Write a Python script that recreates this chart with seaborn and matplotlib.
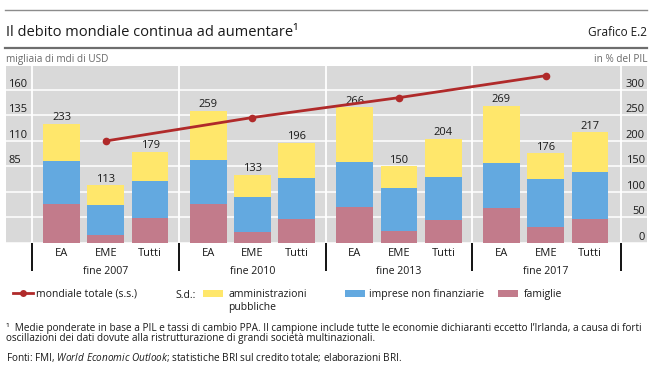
import numpy as np
import pandas as pd
import matplotlib
matplotlib.use("Agg")
import matplotlib.pyplot as plt
import matplotlib.transforms as mtransforms
from matplotlib.lines import Line2D
from matplotlib.patches import Patch
import seaborn as sns

# ---------------- data ----------------
periods = ["fine 2007", "fine 2010", "fine 2013", "fine 2017"]
regions = ["EA", "EME", "Tutti"]
famiglie = [76, 16, 49, 76, 21, 48, 71, 23, 45, 69, 31, 47]
imprese = [85, 58, 72, 87, 70, 79, 87, 84, 85, 88, 94, 92]
amministrazioni = [72, 39, 58, 96, 42, 69, 108, 43, 74, 112, 51, 78]
totali = [233, 113, 179, 259, 133, 196, 266, 150, 204, 269, 176, 217]
mondiale = [110, 133, 152.5, 174]
right_ticks = [0, 50, 100, 150, 200, 250, 300]
left_ticks = [85, 110, 135, 160]

# ---------------- style ----------------
FONT = "Open Sans"
plt.rcParams["font.family"] = [FONT, "DejaVu Sans"]
plt.rcParams["mathtext.fontset"] = "custom"
plt.rcParams["mathtext.rm"] = FONT
plt.rcParams["mathtext.it"] = FONT + ":italic"
YELLOW = "#FFE76B"
BLUE = "#63A9E0"
PINK = "#C27B8B"
RED = "#B02A2A"
GREY = "#D9D9D9"
TXT = "#1A1A1A"
LBL = 8.0     # tick / category / value labels
LEG = 7.5     # legend
NOTE = 7.2    # footnotes

W, H = 650, 370
fig = plt.figure(figsize=(6.5, 3.7), dpi=100)


def fx(px):
    return px / W


def fy(py):
    return 1 - py / H


ax = fig.add_axes([fx(6), fy(243), (647 - 6) / W, (243 - 66) / H])
ax2 = ax.twinx()

# bar positions: 3 bars per group, small gap between groups
GROUP = 3.31
pos = [g * GROUP + i for g in range(len(periods)) for i in range(len(regions))]
df = pd.DataFrame({
    "pos": pos,
    "top": np.add(np.add(famiglie, imprese), amministrazioni),
    "mid": np.add(famiglie, imprese),
    "low": famiglie,
})

ax.set_facecolor(GREY)
ax.set_axisbelow(True)
for col, color in [("top", YELLOW), ("mid", BLUE), ("low", PINK)]:
    sns.barplot(data=df, x="pos", y=col, native_scale=True, width=0.83,
                color=color, saturation=1, errorbar=None, linewidth=0, ax=ax)
ax.bar_label(ax.containers[0], labels=[str(v) for v in totali], padding=0.5,
             fontsize=LBL, color=TXT)

eme_pos = [pos[g * 3 + 1] for g in range(len(periods))]
sns.lineplot(x=eme_pos, y=mondiale, ax=ax2, color=RED, lw=2, marker="o",
             markersize=5.5, markeredgewidth=0, zorder=5)

# limits
ax.set_xlim(-1.253, 13.217)
ax.set_ylim(0, 347)
ax2.set_ylim(10, 183.5)

# horizontal gridlines
ax.set_yticks(right_ticks)
ax.grid(axis="y", color="white", lw=1.1)
ax.grid(axis="x", visible=False)
# vertical separators
seps = [pos[0] - 0.66] + [(pos[g * 3 + 2] + pos[g * 3 + 3]) / 2 for g in range(3)] + [pos[-1] + 0.7]
for s in seps:
    ax.axvline(s, color="white", lw=1.3, zorder=0.5)

# right axis labels (bars, % of GDP) inside the panel
ax.yaxis.tick_right()
ax.tick_params(axis="y", length=0, pad=-1.5, labelsize=LBL, labelcolor=TXT)
for t in ax.get_yticklabels():
    t.set_ha("right")
    t.set_va("bottom")

# left axis labels (line) inside the panel
ax2.yaxis.tick_left()
ax2.set_yticks(left_ticks)
ax2.tick_params(axis="y", length=0, pad=-1.5, labelsize=LBL, labelcolor=TXT)
for t in ax2.get_yticklabels():
    t.set_ha("left")
    t.set_va("bottom")

# x axis
ax.set_xticks(pos)
ax.set_xticklabels(regions * len(periods))
ax.tick_params(axis="x", which="major", length=0, pad=3.3, labelsize=LBL, labelcolor=TXT)
ax.set_xticks(seps, minor=True)
ax.tick_params(axis="x", which="minor", length=20, width=1.3, color="black", direction="out")
trans = mtransforms.blended_transform_factory(ax.transData, ax.transAxes)
for g, p in enumerate(periods):
    ax.text(pos[g * 3 + 1], (243 - 273.5) / 177, p, transform=trans, ha="center",
            va="baseline", fontsize=LBL - 0.4, color=TXT)

for a in (ax, ax2):
    a.set_xlabel("")
    a.set_ylabel("")
    for sp in a.spines.values():
        sp.set_visible(False)

# ---------------- header ----------------
fig.add_artist(Line2D([fx(5), fx(647)], [fy(9.5), fy(9.5)], color="#8C8C8C", lw=1.0))
fig.add_artist(Line2D([fx(5), fx(647)], [fy(47.5), fy(47.5)], color="#6E6E6E", lw=1.6))
fig.text(fx(6), fy(35.5), "Il debito mondiale continua ad aumentare¹", fontsize=10.5,
         va="baseline", ha="left", color=TXT)
fig.text(fx(647), fy(36), "Grafico E.2", fontsize=8.5, va="baseline", ha="right", color=TXT)
fig.text(fx(6), fy(62), "migliaia di mdi di USD", fontsize=7.2, va="baseline",
         ha="left", color="#6A6A6A")
fig.text(fx(647), fy(62), "in % del PIL", fontsize=7.2, va="baseline",
         ha="right", color="#6A6A6A")

# ---------------- legend ----------------
LEG_Y = 294.5


def add_legend(handle, label, x_px, hl, hh=0.7, tp=0.4):
    return fig.legend(handles=[handle], labels=[label], loc="center left",
                      bbox_to_anchor=(fx(x_px), fy(LEG_Y)), frameon=False, borderpad=0,
                      borderaxespad=0, fontsize=LEG, handlelength=hl,
                      handleheight=hh, handletextpad=tp, labelcolor=TXT)


add_legend(Line2D([], [], color=RED, lw=2, marker="o", markersize=5, markeredgewidth=0),
           "mondiale totale (s.s.)", 13, 1.9, tp=0.3)
fig.text(fx(175), fy(298), "S.d.:", fontsize=LEG, va="baseline", ha="left", color=TXT)
leg_y = add_legend(Patch(facecolor=YELLOW), "amministrazioni", 203, 1.95, hh=0.68, tp=0.48)
add_legend(Patch(facecolor=BLUE), "imprese non finanziarie", 345, 1.95, hh=0.68, tp=0.4)
add_legend(Patch(facecolor=PINK), "famiglie", 498, 1.95, hh=0.68, tp=0.55)

# second line of the yellow legend label, aligned with its first line
fig.canvas.draw()
x0 = leg_y.get_texts()[0].get_window_extent().x0
fig.text(x0 / fig.dpi / fig.get_figwidth(), fy(310), "pubbliche", fontsize=LEG,
         va="baseline", ha="left", color=TXT)

# ---------------- footnotes ----------------
fig.text(fx(6), fy(331.5), "¹  Medie ponderate in base a PIL e tassi di cambio PPA. Il campione include "
         "tutte le economie dichiaranti eccetto l’Irlanda, a causa di forti",
         fontsize=NOTE, va="baseline", ha="left", color=TXT)
fig.text(fx(6), fy(341.5), "oscillazioni dei dati dovute alla ristrutturazione di grandi società multinazionali.",
         fontsize=NOTE, va="baseline", ha="left", color=TXT)
fig.text(fx(6), fy(361), "Fonti: FMI, $\\mathit{World\\ Economic\\ Outlook}$; statistiche BRI sul credito "
         "totale; elaborazioni BRI.", fontsize=NOTE, va="baseline", ha="left", color=TXT)

fig.savefig("out.png", dpi=100)
